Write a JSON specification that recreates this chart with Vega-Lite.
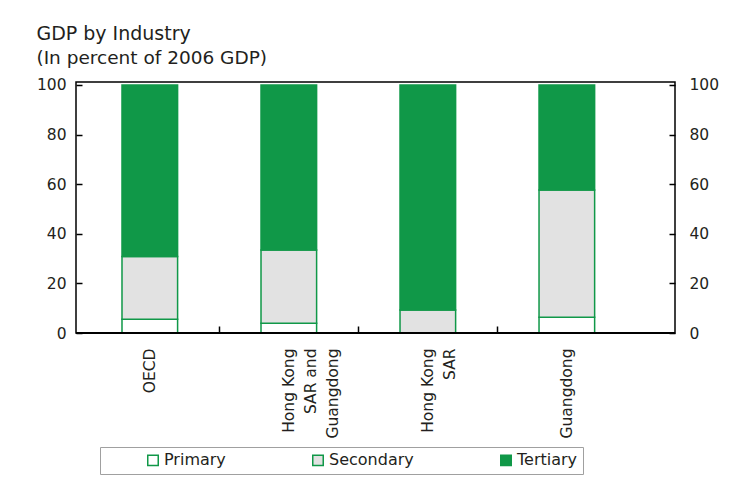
{
  "$schema": "https://vega.github.io/schema/vega-lite/v6.json",
  "autosize": "none",
  "width": 599,
  "height": 251,
  "padding": {"left": 76, "top": 82, "right": 65, "bottom": 158},
  "background": "white",
  "title": {
    "text": "GDP by Industry",
    "subtitle": "(In percent of 2006 GDP)",
    "anchor": "start",
    "frame": "bounds",
    "font": "DejaVu Sans",
    "fontSize": 19,
    "fontWeight": "normal",
    "color": "#231f20",
    "subtitleFont": "DejaVu Sans",
    "subtitleFontSize": 18.5,
    "subtitleColor": "#231f20",
    "subtitlePadding": 5,
    "offset": 10
  },
  "data": {
    "values": [
      {"region": "OECD", "sector": "Primary", "value": 5.5},
      {"region": "OECD", "sector": "Secondary", "value": 25.3},
      {"region": "OECD", "sector": "Tertiary", "value": 69.2},
      {"region": "Hong Kong SAR and Guangdong", "sector": "Primary", "value": 3.9},
      {"region": "Hong Kong SAR and Guangdong", "sector": "Secondary", "value": 29.6},
      {"region": "Hong Kong SAR and Guangdong", "sector": "Tertiary", "value": 66.5},
      {"region": "Hong Kong SAR", "sector": "Primary", "value": 0.1},
      {"region": "Hong Kong SAR", "sector": "Secondary", "value": 9.2},
      {"region": "Hong Kong SAR", "sector": "Tertiary", "value": 90.7},
      {"region": "Guangdong", "sector": "Primary", "value": 6.4},
      {"region": "Guangdong", "sector": "Secondary", "value": 51.3},
      {"region": "Guangdong", "sector": "Tertiary", "value": 42.3}
    ]
  },
  "layer": [
    {
      "mark": {"type": "bar", "stroke": "#109848", "strokeWidth": 1.5},
      "encoding": {
        "x": {
          "field": "region",
          "type": "nominal",
          "sort": null,
          "title": null,
          "scale": {"paddingInner": 0.6, "paddingOuter": 0.4545, "align": 0.364},
          "axis": {
            "domain": false,
            "offset": -7,
            "labelAngle": -90,
            "labelAlign": "right",
            "labelBaseline": "middle",
            "labelFont": "DejaVu Sans",
            "labelFontSize": 15.5,
            "labelColor": "#231f20",
            "labelLineHeight": 22,
            "labelPadding": 15,
            "labelExpr": "datum.value == 'Hong Kong SAR and Guangdong' ? ['Hong Kong', 'SAR and', 'Guangdong'] : datum.value == 'Hong Kong SAR' ? ['Hong Kong', 'SAR'] : datum.value",
            "tickOffset": 69.5,
            "labelOffset": -69.5,
            "tickSize": 7,
            "tickColor": {"condition": {"test": "datum.value == 'Guangdong'", "value": "transparent"}, "value": "black"},
            "tickWidth": 1.5
          }
        },
        "y": {
          "field": "value",
          "type": "quantitative",
          "stack": "zero",
          "title": null,
          "scale": {"domain": [0, 101.2], "nice": false},
          "axis": {
            "values": [0, 20, 40, 60, 80, 100],
            "domain": false,
            "grid": false,
            "offset": -6,
            "tickSize": 6,
            "tickColor": "black",
            "tickWidth": 1.5,
            "labelPadding": 10,
            "labelFont": "DejaVu Sans",
            "labelFontSize": 15.5,
            "labelColor": "#231f20"
          }
        },
        "color": {
          "field": "sector",
          "type": "nominal",
          "scale": {"domain": ["Primary", "Secondary", "Tertiary"], "range": ["#ffffff", "#e2e2e2", "#109848"]},
          "legend": {
            "orient": "none",
            "legendX": 24,
            "legendY": 365,
            "direction": "horizontal",
            "title": null,
            "symbolType": "square",
            "symbolSize": 110,
            "symbolStrokeColor": "#109848",
            "symbolStrokeWidth": 1.5,
            "labelFont": "DejaVu Sans",
            "labelFontSize": 16,
            "labelColor": "#231f20",
            "labelOffset": 3,
            "columnPadding": 44,
            "padding": 5,
            "strokeColor": "#a0a0a0",
            "symbolOffset": 40
          }
        },
        "order": {"field": "sector", "sort": "ascending"}
      }
    },
    {
      "mark": {"type": "rule", "color": "black", "strokeWidth": 1.5},
      "encoding": {
        "y": {
          "datum": 0,
          "type": "quantitative",
          "axis": {
            "orient": "right",
            "values": [0, 20, 40, 60, 80, 100],
            "domain": false,
            "grid": false,
            "title": null,
            "offset": -6,
            "tickSize": 6,
            "tickColor": "black",
            "tickWidth": 1.5,
            "labelPadding": 14,
            "labelFont": "DejaVu Sans",
            "labelFontSize": 15.5,
            "labelColor": "#231f20"
          }
        }
      }
    }
  ],
  "resolve": {"axis": {"y": "independent"}},
  "config": {"view": {"stroke": "black", "strokeWidth": 1.5}}
}
